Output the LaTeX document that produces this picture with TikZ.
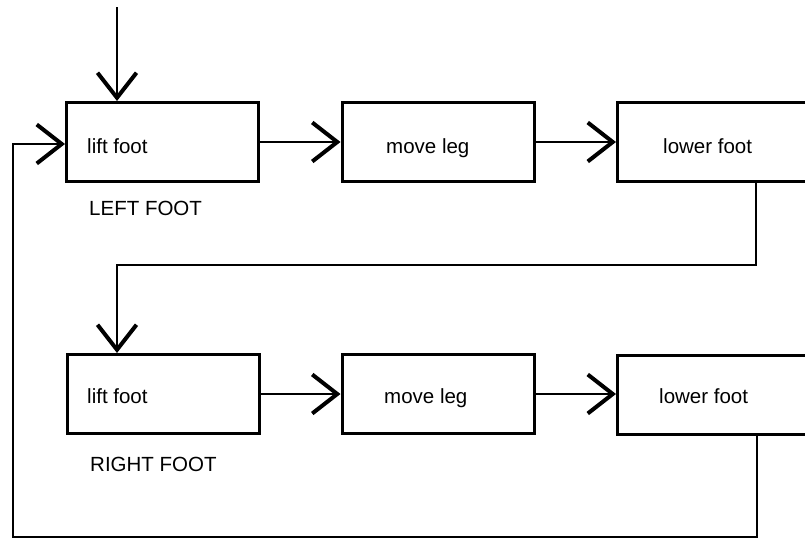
\documentclass[tikz,border=0pt]{standalone}
\usepackage{fontspec}
\setmainfont{Liberation Sans}
\usetikzlibrary{arrows.meta}
\begin{document}
\begin{tikzpicture}[x=1pt,y=-1pt,
  box/.style={draw, line width=3pt, minimum width=192pt, minimum height=79pt, inner sep=0pt},
  lbl/.style={font=\fontsize{20.5}{24}\selectfont, anchor=base west, inner sep=0pt},
  wire/.style={line width=1.6pt},
  conn/.style={line width=1.6pt, -{Straight Barb[length=25pt,width=39pt,line width=4pt]}}]
\useasboundingbox (0,0) rectangle (805,541);
\clip (0,0) rectangle (805,541);
% row 1
\node[box] (lift1)  at (162.5,142) {};
\node[box] (move1)  at (438,142) {};
\node[box] (lower1) at (713.5,142) {};
\node[lbl] (t1) at (87,153) {lift foot};
\node[lbl] (t2) at (386,153) {move leg};
\node[lbl] (t3) at (663,153) {lower foot};
\node[lbl] (lf) at (89,215) {LEFT FOOT};
% row 2
\node[box] (lift2)  at (163.5,394) {};
\node[box] (move2)  at (438,394) {};
\node[box] (lower2) at (713.5,394.5) {};
\node[lbl] (t4) at (87,403) {lift foot};
\node[lbl] (t5) at (384,403) {move leg};
\node[lbl] (t6) at (659,403) {lower foot};
\node[lbl] (rf) at (90,471) {RIGHT FOOT};
% connectors
\coordinate (top) at (117,7);
\draw[conn] (top) -- (top |- lift1.north);
\draw[conn] (lift1) -- (move1);
\draw[conn] (move1) -- (lower1);
\draw[conn] (lift2) -- (move2);
\draw[conn] (move2.east) -- (move2.east -| lower2.west);
\coordinate (d1) at (756,265);
\coordinate (c1) at (117,265);
\draw[conn] (lower1.south -| d1) -- (d1) -- (c1) -- (c1 |- lift2.north);
\coordinate (e1) at (757,537);
\coordinate (e2) at (13,537);
\coordinate (e3) at (13,144);
\draw[conn] (lower2.south -| e1) -- (e1) -- (e2) -- (e3) -- (e3 -| lift1.west);
\end{tikzpicture}
\end{document}
